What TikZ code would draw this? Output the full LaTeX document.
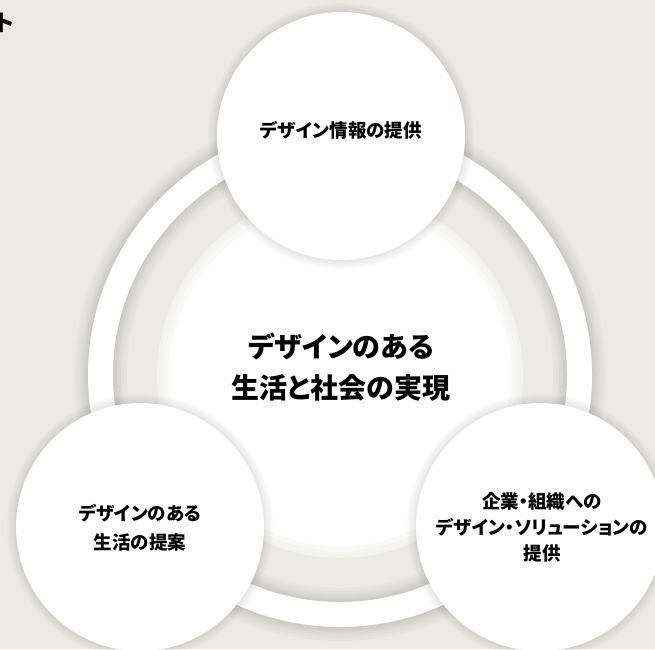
\documentclass[tikz,border=0pt]{standalone}
\usepackage{fontspec}
\newfontfamily\jpfont{Noto Sans CJK JP}[RawFeature=+palt]
\newfontfamily\jpplain{Noto Sans CJK JP}
\definecolor{paper}{RGB}{235,234,230}

\begin{document}
\begin{tikzpicture}[
  x=1pt, y=-1pt,
  bubble/.style={circle, fill=white, inner sep=0, minimum size=248,
    preaction={draw=black, draw opacity=.02, line width=18},
    preaction={draw=black, draw opacity=.02, line width=14},
    preaction={draw=black, draw opacity=.02, line width=10},
    preaction={draw=black, draw opacity=.02, line width=6},
    preaction={draw=black, draw opacity=.02, line width=3}},
  ring/.style={draw=white, line width=25,
    preaction={draw=black, draw opacity=.02, line width=53},
    preaction={draw=black, draw opacity=.02, line width=47},
    preaction={draw=black, draw opacity=.025, line width=41},
    preaction={draw=black, draw opacity=.025, line width=36},
    preaction={draw=black, draw opacity=.025, line width=32},
    preaction={draw=black, draw opacity=.025, line width=28}},
  core/.style={circle, fill=white, inner sep=0, minimum size=366,
    postaction={draw=paper, draw opacity=.25, line width=24},
    postaction={draw=paper, draw opacity=.25, line width=14},
    postaction={draw=paper, draw opacity=.25, line width=6}},
  smalltxt/.style={font=\jpfont\bfseries\fontsize{18.5}{29}\selectfont, align=center, inner sep=0},
  bigtxt/.style={font=\jpfont\bfseries\fontsize{28}{41}\selectfont, align=center, inner sep=0}
]
  \fill[paper] (0,0) rectangle (655,649);
  \useasboundingbox (0,0) rectangle (655,649);

  % cut-off heading in the corner
  \node[font=\jpplain\bfseries\fontsize{23}{23}\selectfont, inner sep=0, anchor=base west] (title) at (-8,31) {ト};

  % ring and centre
  \coordinate (mid) at (340,375);
  \draw[ring] (mid) circle[radius=239.5];
  \node[core] (core) at (mid) {};

  % the three circles
  \node[bubble] (info) at (341,136) {};
  \node[bubble] (life) at (140,527) {};
  \node[bubble] (biz) at (540,527) {};

  \node[bigtxt] (coretxt) at (341,367.5) {デザインのある\\生活と社会の実現};
  \node[smalltxt] (infotxt) at (341,130) {デザイン情報の提供};
  \node[smalltxt] (lifetxt) at (140,527.5) {デザインのある\\生活の提案};
  \node[smalltxt, font={\jpfont\bfseries\fontsize{18.5}{26}\selectfont}] (biztxt) at (542,527) {企業・組織への\\デザイン・ソリューションの\\提供};
\end{tikzpicture}
\end{document}
